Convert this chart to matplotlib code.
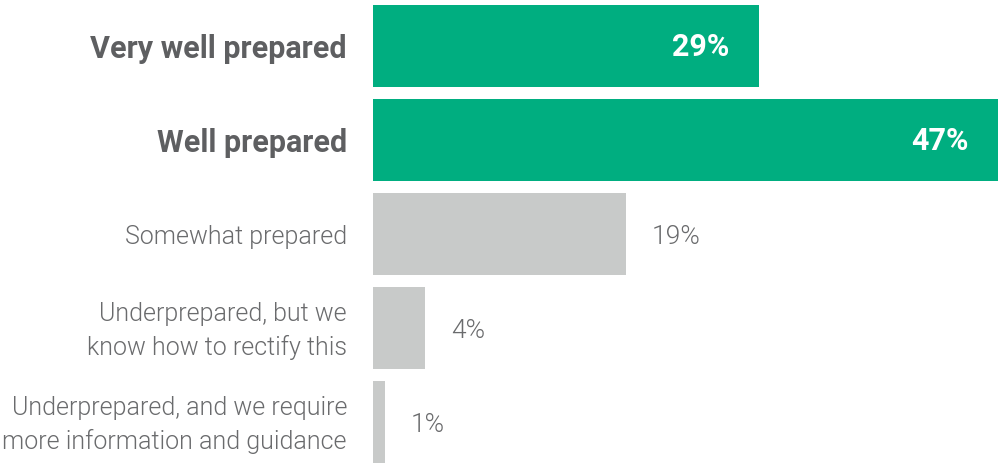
import matplotlib
matplotlib.use("Agg")
import matplotlib.pyplot as plt

categories = ["Very well prepared", "Well prepared", "Somewhat prepared",
              "Underprepared, but we\nknow how to rectify this",
              "Underprepared, and we require\nmore information and guidance"]
values = [29, 47, 19, 3.9, 0.9]
value_labels = ["29%", "47%", "19%", "4%", "1%"]
highlight = [True, True, False, False, False]

GREEN = "#00AE80"
GRAY = "#C8CAC9"
TXT = "#5E5F61"
TXT_L = "#6A6B6D"

fig = plt.figure(figsize=(9.98, 4.63), dpi=100)
ax = fig.add_axes([373/998, 0, 625/998, 1])
ax.set_xlim(0, 47)
n = len(categories)
bh = 82/94
ax.set_ylim(n - 1 + bh/2, -bh/2 - 5/94)
ypos = list(range(n))
colors = [GREEN if h else GRAY for h in highlight]
ax.barh(ypos, values, height=bh, color=colors)
ax.axis("off")

px = 47/625  # data units per pixel
py = 1/94
for i, (v, lab, h) in enumerate(zip(values, value_labels, highlight)):
    if h:
        ax.text(v - 29*px, i + 1*py, lab, ha="right", va="center", color="white",
                fontsize=22, fontweight=600, family="Roboto")
        ax.text(-26*px, i + 3*py, categories[i], ha="right", va="center", color=TXT,
                fontsize=22, fontweight=600, family="Roboto")
    else:
        ax.text(v + 26*px, i + 3*py, lab, ha="left", va="center", color=TXT_L,
                fontsize=19, fontweight=300, family="Roboto")
        ax.text(-26*px, i + 3*py, categories[i], ha="right", va="center", color=TXT_L,
                fontsize=18, fontweight=300, family="Roboto",
                linespacing=1.4)

fig.savefig("out.png", dpi=100)
